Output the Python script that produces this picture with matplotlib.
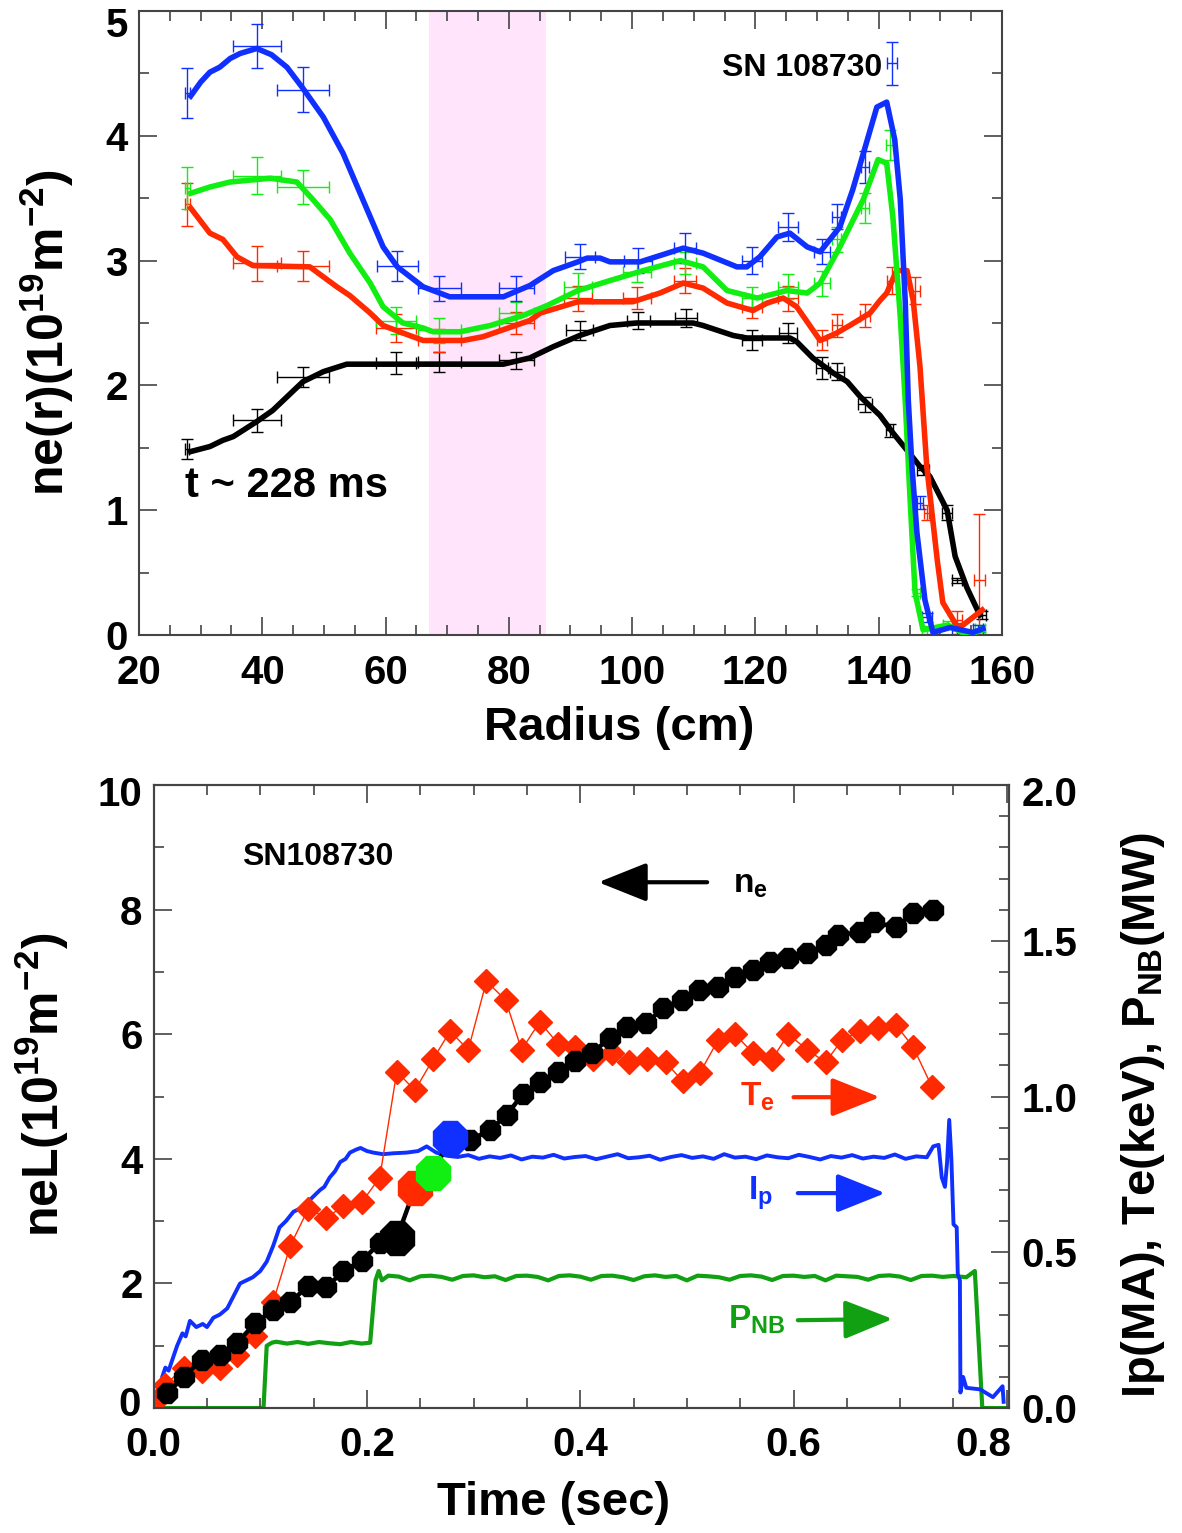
import numpy as np
import matplotlib
matplotlib.use('Agg')
import matplotlib.pyplot as plt
import matplotlib.transforms as mtransforms
from matplotlib.patches import FancyArrowPatch
from matplotlib.ticker import MultipleLocator

plt.rcParams['font.family'] = ['Liberation Sans', 'DejaVu Sans']
plt.rcParams['font.weight'] = 'bold'
plt.rcParams['axes.labelweight'] = 'bold'
plt.rcParams['mathtext.fontset'] = 'custom'
plt.rcParams['mathtext.rm'] = 'Liberation Sans:bold'
plt.rcParams['mathtext.bf'] = 'Liberation Sans:bold'
plt.rcParams['mathtext.it'] = 'Liberation Sans:bold'
plt.rcParams['mathtext.default'] = 'rm'

# ---------------- top panel data: n_e(r) profiles ----------------
blue_r = [28.4, 30.0, 31.5, 33.1, 34.8, 36.4, 39.1, 41.5, 44.0, 46.6, 49.9, 53.1, 56.3, 59.6, 61.9, 66.1,
          70.4, 79.1, 83.4, 87.2, 91.2, 92.7, 94.8, 96.4, 101.3, 108.3, 111.5, 117.0, 118.6, 120.7, 123.5,
          125.6, 128.4, 130.5, 133.7, 135.8, 139.7, 141.3, 142.6, 143.5, 144.3, 144.8, 145.4, 146.2, 147.5,
          148.8, 151.6, 155.3, 156.9]
blue_v = [4.32, 4.43, 4.51, 4.55, 4.62, 4.66, 4.70, 4.65, 4.55, 4.38, 4.15, 3.86, 3.49, 3.11, 2.95, 2.79,
          2.71, 2.71, 2.80, 2.92, 2.99, 3.02, 3.02, 2.99, 2.99, 3.10, 3.06, 2.95, 2.95, 3.03, 3.19,
          3.22, 3.11, 3.07, 3.27, 3.57, 4.23, 4.27, 3.97, 3.49, 2.68, 1.88, 1.35, 0.82, 0.28,
          0.02, 0.06, 0.02, 0.05]

green_r = [28.4, 31.5, 34.8, 39.1, 41.3, 45.6, 48.2, 51.0, 54.2, 57.5, 59.6, 62.8, 66.1, 67.7, 72.1, 77.0,
           82.3, 86.2, 91.2, 96.4, 101.8, 107.8, 111.5, 115.4, 120.3, 125.1, 128.4, 130.5, 133.7, 137.5,
           139.9, 141.3, 142.3, 143.5, 144.3, 145.1, 145.9, 147.2, 151.2, 154.3, 156.9]
green_v = [3.54, 3.59, 3.63, 3.65, 3.66, 3.63, 3.49, 3.33, 3.06, 2.82, 2.63, 2.50, 2.46, 2.43, 2.43, 2.48,
           2.56, 2.64, 2.76, 2.84, 2.92, 3.00, 2.95, 2.76, 2.70, 2.76, 2.74, 2.82, 3.11, 3.49,
           3.81, 3.78, 3.35, 2.55, 1.88, 1.08, 0.34, 0.04, 0.08, 0.00, 0.04]

red_r = [28.4, 31.5, 33.6, 35.9, 38.5, 47.7, 52.1, 54.2, 57.5, 59.6, 62.8, 66.1, 72.6, 75.8, 83.4, 85.1,
         91.2, 100.1, 104.5, 108.3, 111.5, 115.4, 119.6, 121.9, 124.5, 126.7, 130.5, 133.2, 135.3, 138.6,
         140.2, 141.3, 142.9, 144.6, 145.6, 146.7, 147.8, 149.5, 150.4, 152.7, 153.7, 156.8]
red_v = [3.42, 3.22, 3.17, 3.03, 2.96, 2.95, 2.79, 2.72, 2.58, 2.48, 2.42, 2.36, 2.36, 2.39, 2.52, 2.58,
         2.67, 2.67, 2.74, 2.82, 2.78, 2.66, 2.60, 2.66, 2.70, 2.63, 2.36, 2.42, 2.48, 2.58,
         2.68, 2.74, 2.92, 2.92, 2.68, 2.15, 1.35, 0.60, 0.26, 0.07, 0.08, 0.20]

black_r = [28.4, 31.5, 33.6, 35.3, 39.1, 41.7, 46.6, 49.9, 53.7, 79.1, 83.4, 85.5, 87.2, 91.5, 96.4, 100.8,
           109.9, 111.5, 116.4, 118.6, 125.6, 126.7, 129.3, 132.6, 134.9, 137.0, 140.2, 142.3, 144.6, 146.7,
           148.3, 151.1, 152.4, 154.3, 156.4]
black_v = [1.47, 1.51, 1.56, 1.59, 1.71, 1.80, 2.03, 2.11, 2.17, 2.17, 2.22, 2.27, 2.31, 2.40, 2.48, 2.50,
           2.50, 2.48, 2.40, 2.38, 2.38, 2.35, 2.22, 2.10, 2.03, 1.91, 1.76, 1.62, 1.48, 1.35,
           1.27, 1.00, 0.63, 0.38, 0.16]

# measured points with error bars
blue_er = [27.8, 39.1, 46.6, 61.9, 68.7, 81.2, 91.5, 101.0, 108.6, 119.4, 125.3, 130.8, 133.2, 137.8, 142.2, 146.7, 147.8, 152.7, 156.1]
blue_ey = [4.34, 4.72, 4.37, 2.96, 2.78, 2.78, 3.03, 3.00, 3.10, 3.00, 3.27, 3.07, 3.35, 3.75, 4.58, 1.06, 0.14, 0.04, 0.05]
blue_ex = [0.4, 3.9, 4.2, 3.3, 3.5, 2.8, 2.4, 2.3, 1.8, 1.6, 1.6, 1.3, 0.7, 0.7, 0.8, 0.5, 0.8, 0.8, 0.8]
blue_eyy = [0.20, 0.18, 0.18, 0.12, 0.10, 0.10, 0.10, 0.10, 0.12, 0.11, 0.11, 0.10, 0.10, 0.13, 0.17, 0.05, 0.04, 0.03, 0.03]

green_er = [27.8, 39.1, 46.6, 61.7, 68.7, 81.2, 91.2, 100.8, 108.6, 119.4, 125.3, 130.8, 133.2, 137.8, 141.8, 146.2, 147.8, 151.2, 156.4]
green_ey = [3.58, 3.68, 3.59, 2.52, 2.44, 2.58, 2.79, 2.91, 2.98, 2.70, 2.79, 2.82, 3.17, 3.42, 3.93, 0.34, 0.04, 0.08, 0.05]
green_ex = [0.4, 3.9, 4.2, 3.3, 3.5, 2.8, 2.3, 2.3, 1.8, 1.6, 1.6, 1.3, 0.7, 0.7, 0.6, 0.5, 0.8, 0.8, 0.8]
green_eyy = [0.17, 0.15, 0.14, 0.11, 0.10, 0.09, 0.11, 0.08, 0.09, 0.09, 0.10, 0.10, 0.10, 0.12, 0.12, 0.03, 0.03, 0.03, 0.03]

red_er = [27.8, 39.1, 46.6, 61.7, 68.7, 81.2, 91.2, 100.8, 108.6, 119.4, 125.3, 130.8, 133.2, 137.8, 142.2, 145.9, 147.8, 152.7, 156.3]
red_ey = [3.45, 2.98, 2.96, 2.46, 2.36, 2.50, 2.70, 2.70, 2.84, 2.63, 2.70, 2.36, 2.48, 2.56, 2.84, 2.76, 0.98, 0.12, 0.44]
red_ex = [0.4, 3.9, 4.2, 3.3, 3.5, 2.8, 2.3, 2.3, 1.8, 1.6, 1.6, 0.8, 0.8, 0.8, 0.8, 0.8, 0.4, 0.8, 0.9]
red_eyy = [0.17, 0.14, 0.12, 0.11, 0.09, 0.09, 0.10, 0.09, 0.10, 0.09, 0.10, 0.08, 0.09, 0.09, 0.11, 0.11, 0.06, 0.07, 0.53]

black_er = [27.8, 39.1, 46.6, 61.7, 68.7, 81.2, 91.5, 101.0, 108.7, 119.4, 125.3, 130.8, 133.2, 137.8, 141.8, 147.2, 151.1, 152.7, 156.8]
black_ey = [1.49, 1.72, 2.07, 2.18, 2.19, 2.20, 2.44, 2.52, 2.54, 2.36, 2.42, 2.14, 2.11, 1.85, 1.64, 1.32, 0.98, 0.44, 0.16]
black_ex = [0.3, 3.9, 4.2, 3.3, 3.5, 2.8, 2.2, 1.9, 1.8, 1.6, 1.5, 1.0, 1.1, 1.1, 0.6, 1.0, 0.8, 0.8, 0.6]
black_eyy = [0.08, 0.09, 0.08, 0.09, 0.08, 0.07, 0.08, 0.07, 0.07, 0.08, 0.08, 0.09, 0.07, 0.06, 0.05, 0.04, 0.06, 0.02, 0.03]

shade_r = (67, 86)

# ---------------- bottom panel data: time traces ----------------
ne_t = [0.0125, 0.028, 0.045, 0.062, 0.078, 0.095, 0.112, 0.128, 0.145, 0.162, 0.178, 0.195, 0.212, 0.228,
        0.245, 0.262, 0.278, 0.297, 0.315, 0.331, 0.346, 0.362, 0.379, 0.395, 0.411, 0.428, 0.444, 0.462,
        0.478, 0.495, 0.511, 0.529, 0.545, 0.562, 0.578, 0.595, 0.613, 0.630, 0.642, 0.662, 0.675, 0.696,
        0.712, 0.731]
ne_v = [0.24, 0.50, 0.77, 0.85, 1.04, 1.36, 1.57, 1.70, 1.96, 1.94, 2.20, 2.36, 2.65, 2.73,
        3.53, 3.77, 4.33, 4.30, 4.46, 4.70, 5.04, 5.23, 5.40, 5.57, 5.70, 5.94, 6.12, 6.18,
        6.42, 6.55, 6.71, 6.76, 6.92, 7.03, 7.16, 7.22, 7.30, 7.43, 7.59, 7.64, 7.80, 7.72,
        7.94, 7.99]
# profile times marked on the n_e trace (black, red, green, blue)
mark_idx = [13, 14, 15, 16]
mark_col = ['black', '#ff2a00', '#11ee11', '#1030ff']

te_t = [0.004, 0.011, 0.028, 0.045, 0.062, 0.078, 0.095, 0.112, 0.128, 0.145, 0.162, 0.178, 0.195, 0.212,
        0.228, 0.245, 0.262, 0.278, 0.295, 0.312, 0.330, 0.345, 0.362, 0.379, 0.395, 0.412, 0.430, 0.446,
        0.463, 0.480, 0.496, 0.512, 0.529, 0.545, 0.562, 0.580, 0.595, 0.613, 0.630, 0.645, 0.662, 0.679,
        0.696, 0.712, 0.730]
te_v = [0.03, 0.074, 0.13, 0.12, 0.13, 0.17, 0.23, 0.34, 0.52, 0.64, 0.61, 0.65, 0.66, 0.74,
        1.08, 1.02, 1.12, 1.21, 1.15, 1.37, 1.31, 1.15, 1.24, 1.17, 1.16, 1.12, 1.14, 1.11,
        1.12, 1.11, 1.05, 1.075, 1.18, 1.20, 1.14, 1.12, 1.20, 1.15, 1.11, 1.18, 1.21, 1.22,
        1.23, 1.16, 1.03]

ip_t = [0.004, 0.006, 0.008, 0.011, 0.014, 0.018, 0.022, 0.027, 0.030, 0.034, 0.040, 0.046, 0.050, 0.056,
        0.062, 0.069, 0.075, 0.081, 0.087, 0.093, 0.100, 0.106, 0.112, 0.118, 0.124, 0.131, 0.137, 0.144,
        0.150, 0.156, 0.160, 0.165, 0.170, 0.175, 0.180, 0.184, 0.190, 0.194, 0.200, 0.206, 0.215, 0.225,
        0.237, 0.248, 0.256, 0.265, 0.275,
        0.285, 0.295, 0.305, 0.315, 0.325, 0.335, 0.345, 0.355, 0.365, 0.375,
        0.385, 0.395, 0.405, 0.415, 0.425, 0.435, 0.445, 0.455, 0.465, 0.475,
        0.485, 0.495, 0.505, 0.515, 0.525, 0.535, 0.545, 0.555, 0.565, 0.575,
        0.585, 0.595, 0.605, 0.615, 0.625, 0.635, 0.645, 0.655, 0.665, 0.675,
        0.685, 0.695, 0.705, 0.715, 0.725,
        0.731, 0.736, 0.739, 0.742, 0.744, 0.746, 0.748, 0.750, 0.753, 0.754, 0.756, 0.7565, 0.759,
        0.762, 0.775, 0.787, 0.796, 0.797]
ip_v = [0.0, 0.016, 0.10, 0.13, 0.12, 0.16, 0.20, 0.24, 0.23, 0.28, 0.26, 0.27, 0.26, 0.29,
        0.30, 0.32, 0.36, 0.40, 0.41, 0.42, 0.44, 0.47, 0.52, 0.58, 0.60, 0.63, 0.64, 0.66,
        0.68, 0.70, 0.71, 0.74, 0.76, 0.79, 0.80, 0.82, 0.83, 0.835, 0.825, 0.82, 0.815, 0.818,
        0.82, 0.825, 0.84, 0.82, 0.81,
        0.806, 0.812, 0.800, 0.808, 0.803, 0.811, 0.798, 0.807, 0.804, 0.813,
        0.801, 0.806, 0.809, 0.799, 0.807, 0.815, 0.802, 0.805, 0.810, 0.797,
        0.806, 0.812, 0.803, 0.808, 0.800, 0.815, 0.804, 0.807, 0.799, 0.811,
        0.805, 0.802, 0.813, 0.806, 0.798, 0.809, 0.804, 0.812, 0.801, 0.807,
        0.803, 0.814, 0.800, 0.808, 0.805,
        0.84, 0.845, 0.74, 0.71, 0.79, 0.925, 0.80, 0.59, 0.58, 0.43, 0.41, 0.05, 0.10,
        0.065, 0.06, 0.035, 0.07, 0.02]

pnb_t = [0.0, 0.103, 0.106, 0.111,
         0.115, 0.125, 0.135, 0.145, 0.155, 0.165, 0.175, 0.185, 0.195,
         0.203, 0.208, 0.211, 0.214,
         0.22, 0.23, 0.24, 0.25, 0.26, 0.27, 0.28, 0.29, 0.30, 0.31,
         0.32, 0.33, 0.34, 0.35, 0.36, 0.37, 0.38, 0.39, 0.40, 0.41,
         0.42, 0.43, 0.44, 0.45, 0.46, 0.47, 0.48, 0.49, 0.50, 0.51,
         0.52, 0.53, 0.54, 0.55, 0.56, 0.57, 0.58, 0.59, 0.60, 0.61,
         0.62, 0.63, 0.64, 0.65, 0.66, 0.67, 0.68, 0.69, 0.70, 0.71,
         0.72, 0.73, 0.74, 0.75,
         0.762, 0.770, 0.777, 0.802]
pnb_v = [0.0, 0.0, 0.20, 0.21,
         0.213, 0.207, 0.212, 0.206, 0.212, 0.208, 0.205, 0.212, 0.207,
         0.21, 0.41, 0.44, 0.41,
         0.425, 0.422, 0.410, 0.423, 0.425, 0.421, 0.412, 0.424, 0.426, 0.420,
         0.423, 0.411, 0.424, 0.425, 0.421, 0.410, 0.424, 0.426, 0.422, 0.412,
         0.424, 0.425, 0.420, 0.411, 0.423, 0.426, 0.421, 0.424, 0.410, 0.425,
         0.423, 0.420, 0.412, 0.424, 0.426, 0.422, 0.411, 0.424, 0.425, 0.421,
         0.424, 0.410, 0.425, 0.423, 0.421, 0.412, 0.424, 0.426, 0.422, 0.411,
         0.424, 0.425, 0.421, 0.424,
         0.42, 0.44, 0.0, 0.0]

RED = '#ff2a00'
BLUE = '#1030ff'
GREEN = '#11ee11'
DKGREEN = '#11a011'
FRAME = '#444444'

fig = plt.figure(figsize=(11.82, 15.33), dpi=100)


def shift_label(label, dx_px, dy_px):
    label.set_transform(label.get_transform() +
                        mtransforms.ScaledTranslation(dx_px / 100, dy_px / 100, fig.dpi_scale_trans))


# ===================== top panel =====================
ax1 = fig.add_axes([0.1176, 0.5858, 0.7301, 0.4070])
ax1.axvspan(shade_r[0], shade_r[1], color='#ffe4fb', lw=0, zorder=0)

series = [(black_r, black_v, black_er, black_ey, black_ex, black_eyy, 'black'),
          (red_r, red_v, red_er, red_ey, red_ex, red_eyy, RED),
          (green_r, green_v, green_er, green_ey, green_ex, green_eyy, GREEN),
          (blue_r, blue_v, blue_er, blue_ey, blue_ex, blue_eyy, BLUE)]
for r, v, er, ey, ex, eyy, c in series:
    ax1.errorbar(er, ey, xerr=ex, yerr=eyy, fmt='none', ecolor=c, elinewidth=1.0,
                 capsize=4, capthick=1.0, zorder=2)
for r, v, er, ey, ex, eyy, c in series:
    ax1.plot(r, v, color=c, lw=4.0, solid_joinstyle='round', zorder=3)

ax1.set_xlim(20, 160)
ax1.set_ylim(0, 5)
ax1.set_xticks([20, 40, 60, 80, 100, 120, 140, 160])
ax1.set_yticks([0, 1, 2, 3, 4, 5])
ax1.set_yticklabels(['0', '1', '2', '3', '4', '5'])
ax1.xaxis.set_minor_locator(MultipleLocator(5))
ax1.yaxis.set_minor_locator(MultipleLocator(0.5))
ax1.tick_params(which='both', direction='in', top=True, right=True, color=FRAME, width=1.2)
ax1.tick_params(which='major', length=13, labelsize=29)
ax1.tick_params(which='minor', length=7)
ax1.tick_params(axis='x', pad=14)
ax1.tick_params(axis='y', pad=8)
for s in ax1.spines.values():
    s.set_color(FRAME)
    s.set_linewidth(1.5)
shift_label(ax1.get_yticklabels()[-1], 0, -11)

ax1.set_xlabel('Radius (cm)', fontsize=34, va='center')
ax1.xaxis.set_label_coords(0.556, -0.149)
ax1.set_ylabel(r'ne(r)(10$^{19}$m$^{-2}$)', fontsize=36, va='center')
ax1.yaxis.set_label_coords(-0.107, 0.484)

ax1.text(114.6, 4.48, 'SN 108730', fontsize=23, ha='left', va='baseline')
ax1.text(27.5, 1.106, 't ~ 228 ms', fontsize=30, ha='left', va='baseline')

# ===================== bottom panel =====================
ax2 = fig.add_axes([0.1300, 0.0815, 0.7236, 0.4064])
ax2r = ax2.twinx()
ax2.set_zorder(ax2r.get_zorder() + 1)
ax2.patch.set_visible(False)

ax2r.plot(pnb_t, pnb_v, color=DKGREEN, lw=3.0, zorder=2)
ax2r.plot(ip_t, ip_v, color=BLUE, lw=2.8, zorder=3)
ax2r.plot(te_t, te_v, color=RED, lw=1.0, marker='D', ms=12, mec=RED, mfc=RED, zorder=4)

ax2.plot(ne_t, ne_v, color='black', lw=3.2, marker='8', ms=15, zorder=3)
for i, c in zip(mark_idx, mark_col):
    ax2.plot([ne_t[i]], [ne_v[i]], marker='8', ms=26, color=c, mec=c, ls='none', zorder=4)

ax2.set_xlim(0, 0.802)
ax2.set_ylim(0, 10)
ax2r.set_ylim(0, 2.0)
ax2.set_xticks([0.0, 0.2, 0.4, 0.6, 0.8])
ax2.set_xticklabels(['0.0', '0.2', '0.4', '0.6', '0.8'])
ax2.xaxis.set_minor_locator(MultipleLocator(0.05))
ax2.set_yticks([0, 2, 4, 6, 8, 10])
ax2.set_yticklabels(['0', '2', '4', '6', '8', '10'])
ax2.yaxis.set_minor_locator(MultipleLocator(1))
ax2r.set_yticks([0.0, 0.5, 1.0, 1.5, 2.0])
ax2r.set_yticklabels(['0.0', '0.5', '1.0', '1.5', '2.0'])
ax2r.yaxis.set_minor_locator(MultipleLocator(0.1))

ax2.tick_params(which='both', direction='in', top=True, right=False, color=FRAME, width=1.2)
ax2.tick_params(which='major', length=13, labelsize=29)
ax2.tick_params(which='minor', length=7)
ax2.tick_params(axis='x', pad=13)
ax2.tick_params(axis='y', pad=8)
ax2r.tick_params(which='both', direction='in', color=FRAME, width=1.2)
ax2r.tick_params(which='major', length=13, labelsize=29, pad=9)
ax2r.tick_params(which='minor', length=7)
for a in (ax2, ax2r):
    for s in a.spines.values():
        s.set_color(FRAME)
        s.set_linewidth(1.5)

# edge labels nudged, as in the original
shift_label(ax2.get_xticklabels()[-1], -24, 0)
shift_label(ax2.get_yticklabels()[-1], 0, -6)
shift_label(ax2.get_yticklabels()[0], -2, 7)
shift_label(ax2r.get_yticklabels()[-1], 0, -6)

ax2.set_xlabel('Time (sec)', fontsize=34, va='center')
ax2.xaxis.set_label_coords(0.468, -0.152)
ax2.set_ylabel(r'neL(10$^{19}$m$^{-2}$)', fontsize=36, va='center')
ax2.yaxis.set_label_coords(-0.131, 0.518)
ax2r.set_ylabel(r'Ip(MA), Te(keV), P$_{NB}$(MW)', fontsize=34, va='center')
ax2r.yaxis.set_label_coords(1.157, 0.47)

ax2.text(0.083, 8.72, 'SN108730', fontsize=23, ha='left', va='baseline')


def arrow(ax, tail, tip, color):
    a = FancyArrowPatch(tail, tip, arrowstyle='-|>,head_length=30,head_width=12',
                        mutation_scale=1, lw=3, color=color, shrinkA=0, shrinkB=0, zorder=6)
    ax.add_patch(a)


arrow(ax2, (0.519, 8.44), (0.417, 8.44), 'black')
arrow(ax2, (0.600, 4.99), (0.681, 4.99), RED)
arrow(ax2, (0.604, 3.45), (0.686, 3.45), BLUE)
arrow(ax2, (0.604, 1.41), (0.693, 1.43), DKGREEN)

ax2.text(0.543, 8.27, r'n$_{e}$', fontsize=24, ha='left', va='baseline')
ax2.text(0.550, 4.86, r'T$_{e}$', fontsize=24, ha='left', va='baseline', color=RED)
ax2.text(0.557, 3.34, r'I$_{p}$', fontsize=24, ha='left', va='baseline', color=BLUE)
ax2.text(0.539, 1.28, r'P$_{NB}$', fontsize=24, ha='left', va='baseline', color=DKGREEN)

fig.savefig('out.png', dpi=100)
